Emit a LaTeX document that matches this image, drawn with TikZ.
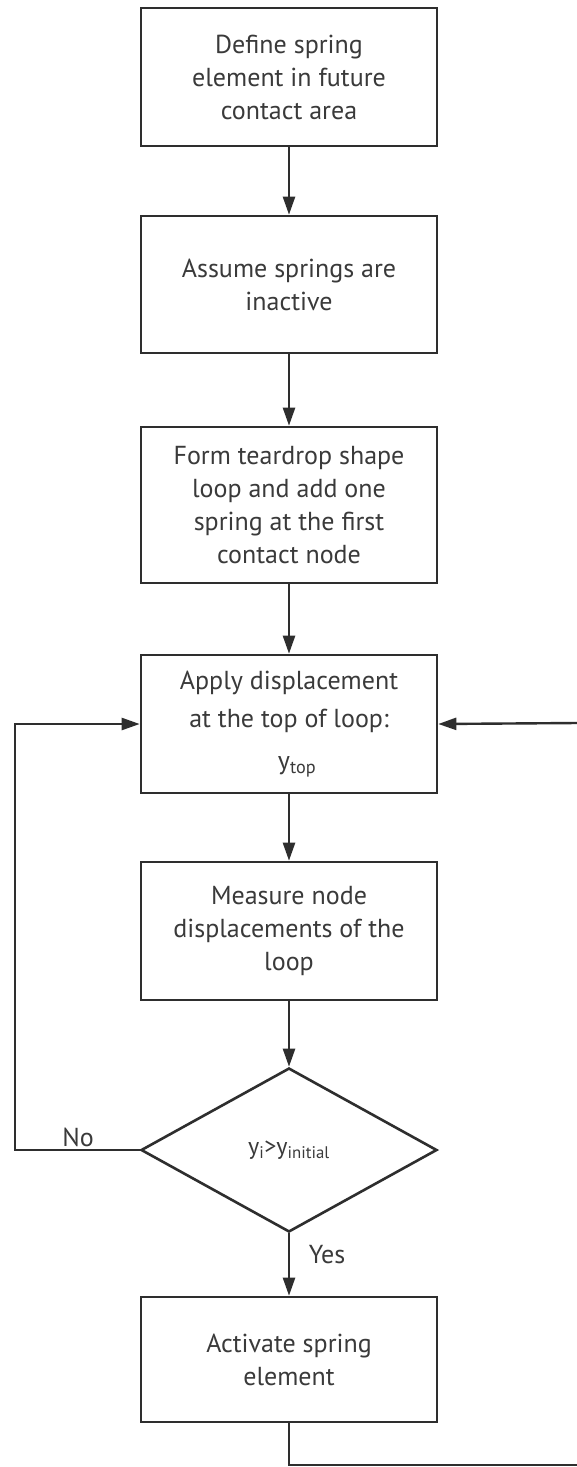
\documentclass[tikz,border=0pt]{standalone}
\usepackage{fontspec}
\setmainfont{PT Sans}
\usetikzlibrary{shapes.geometric,arrows.meta}
\definecolor{ink}{HTML}{2E2E2E}
\definecolor{txt}{HTML}{3A3A3A}
\tikzset{
  stepbox/.style={draw=ink, line width=2.6pt, rectangle, minimum width=296pt, inner sep=0pt,
    align=center, text=txt, font=\fontsize{26}{33}\selectfont},
  decision/.style={draw=ink, line width=2.6pt, diamond, minimum width=296pt, minimum height=164pt,
    inner sep=0pt, text=txt, font=\fontsize{24}{28}\selectfont},
  flow/.style={draw=ink, line width=2.4pt, -{Triangle[length=18pt,width=12pt]}},
  plain/.style={draw=ink, line width=2.4pt},
  lab/.style={text=txt, font=\fontsize{26}{30}\selectfont}
}
\begin{document}
\begin{tikzpicture}[x=1pt,y=-1pt]
\useasboundingbox (0,0) rectangle (577,1467);
\fill[white] (0,0) rectangle (577,1467);
\node[stepbox, minimum height=138pt] (b1) at (289,77) {Define spring\\element in future\\contact area};
\node[stepbox, minimum height=137pt] (b2) at (289,284.5) {Assume springs are\\inactive};
\node[stepbox, minimum height=156pt] (b3) at (289,505) {Form teardrop shape\\loop and add one\\spring at the first\\contact node};
\node[stepbox, minimum height=138pt, font=\fontsize{26}{38}\selectfont] (b4) at (289,724) {Apply displacement\\at the top of loop:\\[4pt]\hspace*{16pt}y\textsubscript{top}};
\node[stepbox, minimum height=138pt] (b5) at (289,931) {Measure node\\displacements of the\\loop};
\node[decision] (d) at (289,1150) {y\textsubscript{i}>y\textsubscript{initial}};
\node[stepbox, minimum height=125pt] (b6) at (289,1359.5) {Activate spring\\element};
\coordinate (lc) at (15,1150);
\coordinate (bc) at (289,1465);
\coordinate (br) at (577,1465);
\coordinate (rt) at (577,723);
\draw[flow] (b1.south) -- (b2.north);
\draw[flow] (b2.south) -- (b3.north);
\draw[flow] (b3.south) -- (b4.north);
\draw[flow] (b4.south) -- (b5.north);
\draw[flow] (b5.south) -- (d.north);
\draw[flow] (d.south) -- (b6.north);
\draw[flow] (d.west) -- (lc) |- (b4.west);
\draw[plain] (b6.south) -- (bc) -- (br);
\draw[flow] (rt) -- (b4.east);
\node[lab] (no) at (78,1137) {No};
\node[lab] (yes) at (327,1255) {Yes};
\end{tikzpicture}
\end{document}
